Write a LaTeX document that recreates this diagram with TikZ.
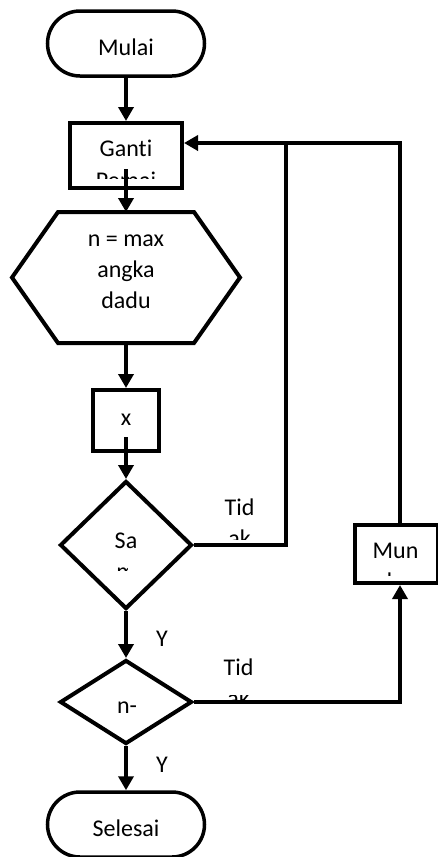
\documentclass[tikz,border=0pt]{standalone}
\usepackage{fontspec}
\setmainfont{Carlito}[Ligatures=NoCommon]
\usetikzlibrary{shapes.geometric, arrows.meta}

\begin{document}
\begin{tikzpicture}[x=1pt, y=-1pt,
    line/.style={line width=4pt},
    arr/.style={line, -{Triangle[width=15pt,length=14pt]}},
    term/.style={draw, line width=3.5pt, rounded corners=32.5pt, minimum width=157pt, minimum height=65pt},
    box/.style={draw, line width=4pt, inner sep=0pt},
    cond/.style={draw, diamond, line width=4pt, inner sep=0pt, minimum width=132pt},
    txt/.style={anchor=base, inner sep=0pt, font=\fontsize{24}{31}\selectfont}
  ]
  \useasboundingbox (0,0) rectangle (438,857);

  % shapes
  \node[term] (mulai) at (126,43.5) {};
  \node[box, minimum width=112pt, minimum height=65pt] (ganti) at (126,155.5) {};
  \node[minimum width=228pt, minimum height=131pt, inner sep=0pt, outer sep=0pt] (dadu) at (126,277.5) {};
  \draw[line] (dadu.west) -- ([xshift=46pt]dadu.north west) -- ([xshift=-46pt]dadu.north east)
    -- (dadu.east) -- ([xshift=-46pt]dadu.south east) -- ([xshift=46pt]dadu.south west) -- cycle;
  \node[box, minimum width=66pt, minimum height=61pt] (xbox) at (126,420.5) {};
  \node[cond, minimum height=128pt] (sama) at (126,545) {};
  \node[cond, minimum height=84pt] (cek) at (126,702) {};
  \node[box, minimum width=83pt, minimum height=58pt] (mundur) at (396.5,554) {};
  \node[term] (selesai) at (126,824.5) {};

  % texts
  \node[txt] (t-mulai) at (126,55) {Mulai};
  \node[txt] (t-ganti) at (126,156.7) {Ganti};
  \foreach \t [count=\i] in {n = max, angka, dadu}
    \node[txt] (t-dadu-\i) at (126,215.7+31*\i) {\t};
  \node[txt] (t-x) at (126,425) {x};
  \node[txt] (t-sama) at (126,548) {Sa};
  \node[txt] (t-cek) at (127,713) {n-};
  \node[txt] (t-mundur) at (395.5,558) {Mun};
  \node[txt] (t-selesai) at (126,836.7) {Selesai};
  \node[txt] (tidak1) at (239.5,515) {Tid};
  \node[txt] (tidak2) at (238.5,675) {Tid};
  \node[txt] (ya1) at (162,646) {Y};
  \node[txt] (ya2) at (162,772) {Y};

  % second lines cut off by their frames
  \foreach \fx/\fy/\xa/\xb/\ya/\yb/\ft/\fn in {126/188.5/80/170/170/178.5/Pemai/g,
      126/579/116/127/565/570/m/s, 239.5/546/220/260/529/539/ak/t1,
      396.5/589/380/420/571/575/dur/m, 238.5/706/220/260/695/699/ak/t2}
  {
    \begin{scope}
      \clip (\xa,\ya) rectangle (\xb,\yb);
      \node[txt] (rest-\fn) at (\fx,\fy) {\ft};
    \end{scope}
  }

  % connectors
  \coordinate (join) at (286,143);
  \draw[arr] (mulai) -- (ganti);
  \draw[arr] ([yshift=21pt]ganti.south) -- (dadu.north);
  \draw[arr] (dadu.south) -- (xbox);
  \draw[arr] ([yshift=16pt]xbox.south) -- (sama);
  \draw[arr] (sama) -- (cek);
  \draw[arr] (cek) -- (selesai);
  \draw[line] (sama.east) -| (join);
  \draw[arr] ([xshift=3.5pt]mundur.north) |- ([yshift=12.5pt]ganti.east);
  \draw[arr] (cek.east) -| ([xshift=3.5pt]mundur.south);
\end{tikzpicture}
\end{document}
